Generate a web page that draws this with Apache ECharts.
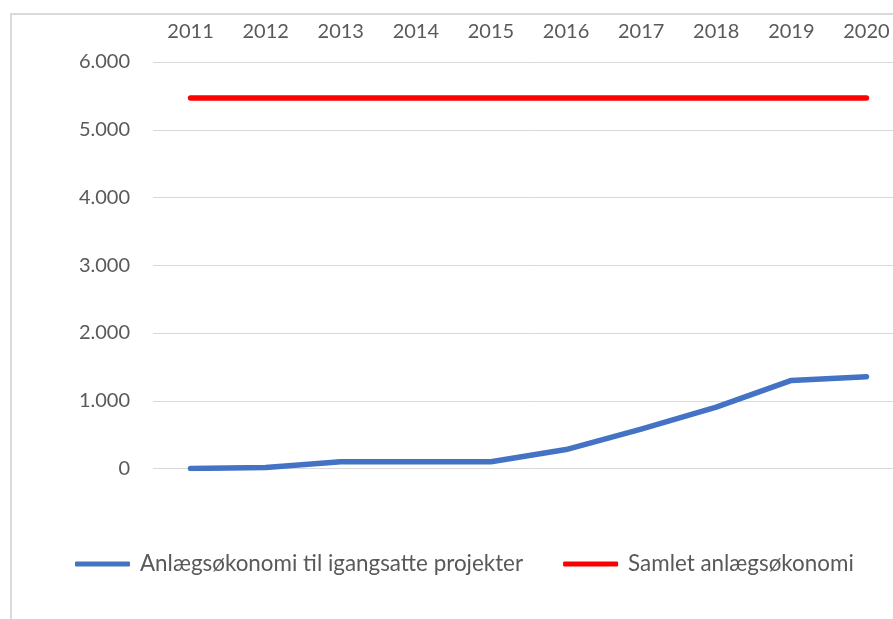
<!DOCTYPE html>
<html>
<head>
<meta charset="utf-8">
<script src="https://cdn.jsdelivr.net/npm/echarts@6/dist/echarts.min.js"></script>
<style>
  html, body { margin: 0; padding: 0; background: #fff; overflow: hidden; }
  #chart { width: 904px; height: 619px; }
</style>
</head>
<body>
<div id="chart"></div>
<script>
let years = ['2011', '2012', '2013', '2014', '2015', '2016', '2017', '2018', '2019', '2020']
let igangsatte = [0, 15, 100, 100, 100, 280, 580, 905, 1300, 1355]
let samlet = [5470, 5470, 5470, 5470, 5470, 5470, 5470, 5470, 5470, 5470]
let yTicks = [0, 1000, 2000, 3000, 4000, 5000, 6000]

let names = ['Anlægsøkonomi til igangsatte projekter', 'Samlet anlægsøkonomi']
let txt = '#595959'
let font = 'Lato'

function fmt(v) {
    // dansk tusindtalsseparator
    return String(v).replace(/\B(?=(\d{3})+(?!\d))/g, '.')
}

var myChart = echarts.init(document.getElementById('chart'))
var option = {
    animation: false,
    backgroundColor: '#fff',
    graphic: [{
        type: 'rect',
        shape: { x: 11, y: 14, width: 1000, height: 1000 },
        style: { fill: 'none', stroke: '#d9d9d9', lineWidth: 2 },
        silent: true
    }],
    grid: {
        left: 153,
        right: 0,
        top: 62,
        bottom: 150.5
    },
    xAxis: {
        type: 'category',
        position: 'top',
        data: years,
        boundaryGap: true,
        axisLine: { show: false },
        axisTick: { show: false },
        axisLabel: { color: txt, fontFamily: font, fontSize: 20, margin: 20 }
    },
    yAxis: {
        type: 'value',
        min: yTicks[0],
        max: yTicks[yTicks.length - 1],
        interval: 1000,
        axisLine: { show: false },
        axisTick: { show: false },
        axisLabel: {
            color: txt, fontFamily: font, fontSize: 20, margin: 23,
            formatter: fmt
        },
        splitLine: { lineStyle: { color: '#d9d9d9', width: 1 } }
    },
    legend: {
        bottom: 39,
        left: 70,
        itemWidth: 55,
        itemHeight: 5,
        itemGap: 40,
        icon: 'roundRect',
        textStyle: { color: txt, fontFamily: font, fontSize: 22.4, padding: [0, 0, 0, 5] },
        data: names
    },
    series: [
        {
            name: names[0],
            type: 'line',
            data: igangsatte,
            showSymbol: false,
            symbol: 'none',
            color: '#4472c4',
            lineStyle: { width: 5.5, cap: 'round', join: 'round' }
        },
        {
            name: names[1],
            type: 'line',
            data: samlet,
            showSymbol: false,
            symbol: 'none',
            color: '#ff0000',
            lineStyle: { width: 5.5, cap: 'round', join: 'round' }
        }
    ]
}
myChart.setOption(option)
</script>
</body>
</html>
